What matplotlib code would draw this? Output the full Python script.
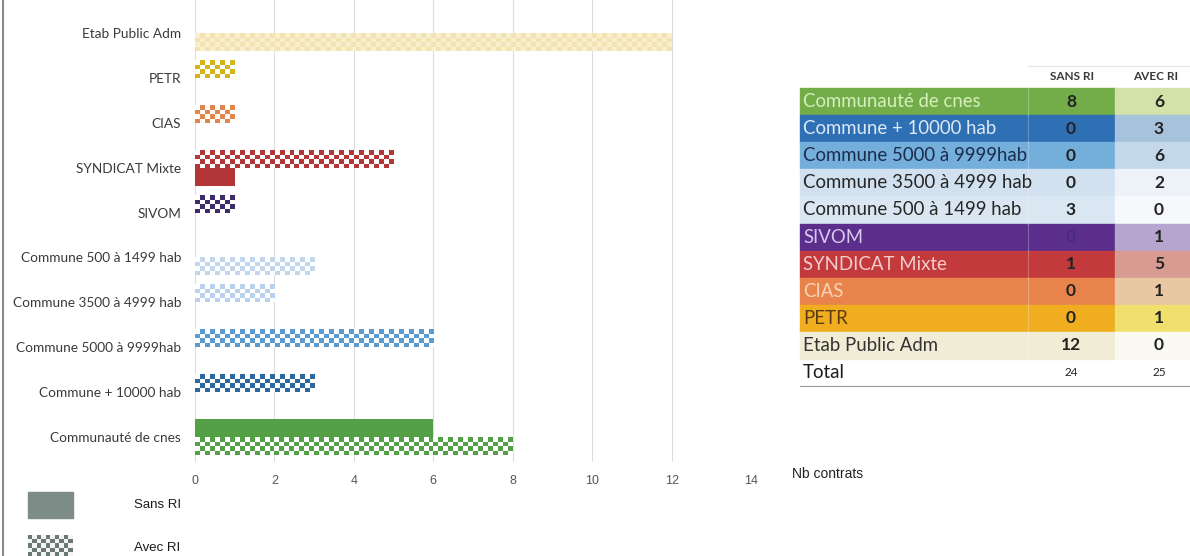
import numpy as np
import matplotlib
matplotlib.use("Agg")
import matplotlib.pyplot as plt
from matplotlib.colors import to_rgb
from matplotlib.patches import Rectangle

plt.rcParams['font.family'] = ['Lato', 'DejaVu Sans']

# données (du bas vers le haut du graphique)
categories = ['Communauté de cnes', 'Commune + 10000 hab', 'Commune 5000 à 9999hab',
              'Commune 3500 à 4999 hab', 'Commune 500 à 1499 hab', 'SIVOM',
              'SYNDICAT Mixte', 'CIAS', 'PETR', 'Etab Public Adm']
sans_ri = [8, 0, 0, 0, 3, 0, 1, 0, 0, 12]
avec_ri = [6, 3, 6, 2, 0, 1, 5, 1, 1, 0]
x_ticks = [0, 2, 4, 6, 8, 10, 12, 14]

# styles des barres
bar_colors = ['#54a047', '#2c67a2', '#5a9bd2', '#b9d1ec', '#c2d7ee', '#3d2b6c',
              '#b23538', '#e0864a', '#d5b515', '#f3e3b2']
bar_bg = ['white'] * 9 + ['#f8efcf']
sans_solid = [False, False, False, False, False, False, True, False, False, False]
avec_solid = [True, False, False, False, False, False, False, False, False, False]

# couleurs du tableau
tab_colors = ['#72ad4a', '#2f6fb3', '#74afdb', '#d2e1f0', '#dae7f3', '#5b2e8c',
              '#c23a3c', '#e8834b', '#f0ad20', '#f0ecd6']
tab_avec = ['#d3e2a8', '#a7c2dc', '#c3d8ea', '#edf2f8', '#f6f8fb', '#b6a6cf',
            '#d89b92', '#e9c7a2', '#efe06e', '#fbfaf2']
tab_text = ['#d6efbd', '#dce9f7', '#1c2c4c', '#262626', '#262626', '#d8c8ee',
            '#f4cccc', '#f8d4b6', '#5a3c12', '#333333']

W, H = 1190, 556
fig = plt.figure(figsize=(W / 100, H / 100), dpi=100)

# axes principal
x_px = 39.7  # pixels par unité
y_px = 44.9
ax = fig.add_axes([195 / W, 1 - 462 / H, 556 / W, 462 / H])


def checker(a, x0, x1, y0, y1, c1, c2, sx, sy, cell=5.0):
    ncol = max(1, int(round((x1 - x0) * sx / cell)))
    nrow = max(1, int(round((y1 - y0) * sy / cell)))
    par = np.add.outer(np.arange(nrow), np.arange(ncol)) % 2
    img = np.where(par[..., None] == 0, np.array(to_rgb(c1)), np.array(to_rgb(c2)))
    a.imshow(img, extent=(x0, x1, y0, y1), aspect='auto', interpolation='nearest',
             origin='lower', zorder=3)


bh = 0.4
for i, cat in enumerate(categories):
    # Avec RI : case du haut, Sans RI : case du bas
    for val, solid, y0 in ((avec_ri[i], avec_solid[i], i), (sans_ri[i], sans_solid[i], i - bh)):
        if val <= 0:
            continue
        if solid:
            ax.barh(y0, val, height=bh, align='edge', color=bar_colors[i], zorder=3)
        else:
            checker(ax, 0, val, y0, y0 + bh, bar_colors[i], bar_bg[i], x_px, y_px)

ax.set_xlim(0, 14)
ax.set_ylim(-(462 - 437) / y_px, 9 + 33 / y_px)
ax.set_xticks(x_ticks)
ax.set_xticklabels([str(t) for t in x_ticks], fontsize=9, color='#555555',
                   family=['Liberation Sans Narrow', 'Liberation Sans'])
ax.set_yticks(range(len(categories)))
ax.set_yticklabels(categories, fontsize=9.8, color='#3a3a3a')
ax.tick_params(length=0)
ax.tick_params(axis='x', pad=9)
ax.tick_params(axis='y', pad=10)
for s in ax.spines.values():
    s.set_visible(False)
ax.grid(axis='x', color='#dcdcdc', linewidth=0.8, zorder=0)
ax.set_axisbelow(True)

# surcouche en pixels : tableau, légende, titre d'axe
ov = fig.add_axes([0, 0, 1, 1], zorder=-1)
ov.axis('off')

ov.plot([3, 3], [0, H], color='#8a8a8a', linewidth=1.5)
ov.text(792, 474, 'Nb contrats', fontsize=10, family='Liberation Sans',
        va='center', ha='left', color='#222222')

# légende
ov.add_patch(Rectangle((28, 492), 45, 26, color='#7d8c87'))
ov.text(134, 505, 'Sans RI', fontsize=9.5, family='Liberation Sans',
        va='center', color='#1a1a1a')
checker(ov, 28, 73, 535, 556, '#6a7976', '#f4f4f4', 1, 1, cell=4.5)
ov.text(134, 548, 'Avec RI', fontsize=9.5, family='Liberation Sans',
        va='center', color='#1a1a1a')

# tableau
x_lab, x_sans, x_avec, x_end = 800, 1028, 1115, 1190
row_top, row_h = 88, 27.1
ov.plot([x_sans, x_end], [66, 66], color='#e4e4e4', linewidth=0.8)
ov.text((x_sans + x_avec) / 2 + 1, 76, 'SANS RI', fontsize=8.5, fontweight='bold',
        ha='center', va='center', color='#3a3a3a')
ov.text((x_avec + x_end) / 2 + 3, 76, 'AVEC RI', fontsize=8.5, fontweight='bold',
        ha='center', va='center', color='#3a3a3a')

for i, cat in enumerate(categories):
    y0 = row_top + row_h * i
    yc = y0 + row_h / 2
    ov.add_patch(Rectangle((x_lab, y0), x_avec - x_lab, row_h, color=tab_colors[i]))
    ov.add_patch(Rectangle((x_avec, y0), x_end - x_avec, row_h, color=tab_avec[i]))
    ov.plot([x_sans, x_sans], [y0, y0 + row_h], color='white', alpha=0.25, linewidth=0.8)
    clip = Rectangle((x_lab, y0), x_sans - x_lab - 2, row_h, transform=ov.transData)
    t = ov.text(x_lab + 3, yc, cat, fontsize=13.4, ha='left',
                va='center', color=tab_text[i])
    t.set_clip_path(clip)
    ov.text(1071, yc, str(sans_ri[i]), fontsize=12.5, fontweight='bold', ha='center',
            va='center', color='#4a2a7e' if cat == 'SIVOM' else '#222222')
    ov.text(1159, yc, str(avec_ri[i]), fontsize=12.5, fontweight='bold', ha='center',
            va='center', color='#222222')

y_tot = row_top + row_h * len(categories)
ov.text(x_lab + 3, y_tot + 14, 'Total', fontsize=13.4, ha='left',
        va='center', color='#1a1a1a')
ov.text(1071, y_tot + 14, str(sum(sans_ri)), fontsize=8.5, ha='center', va='center', color='#222222')
ov.text(1159, y_tot + 14, str(sum(avec_ri)), fontsize=8.5, ha='center', va='center', color='#222222')
ov.plot([x_lab, x_end], [y_tot + 27, y_tot + 27], color='#9a9a9a', linewidth=0.8)

ov.set_xlim(0, W)
ov.set_ylim(H, 0)

fig.savefig('out.png', dpi=100)
